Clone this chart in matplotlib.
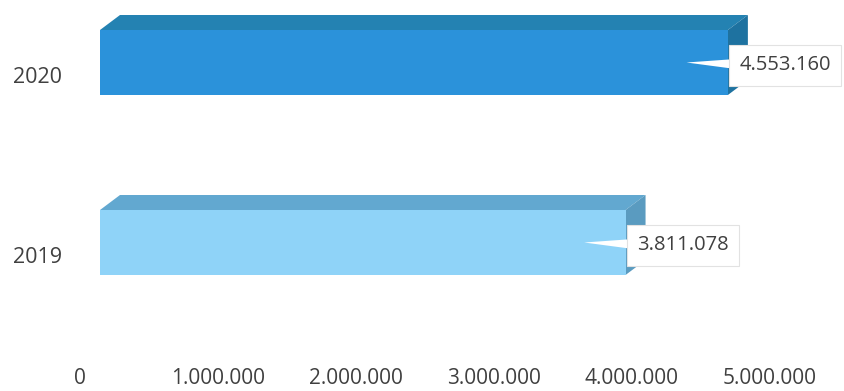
import matplotlib.pyplot as plt
from matplotlib.patches import Polygon
from matplotlib.transforms import ScaledTranslation, blended_transform_factory

plt.rcParams["font.family"] = ["Open Sans", "DejaVu Sans"]

years = ["2019", "2020"]
values = [3811078, 4553160]
front_colors = ["#8FD3F8", "#2B92DA"]
top_colors = ["#62A8D0", "#2482B2"]
side_colors = ["#5A9BC0", "#1E72A0"]
xticks = [0, 1000000, 2000000, 3000000, 4000000, 5000000]

DPI = 100


def fmt(v):
    # thousands separated by dots
    return f"{v:,}".replace(",", ".")


def px_shift(x, y):
    return ScaledTranslation(x / DPI, y / DPI, fig.dpi_scale_trans)


fig = plt.figure(figsize=(8.45, 3.91), dpi=DPI)
W, H = 845, 391
ax = fig.add_axes([100 / W, (H - 360) / H, 745 / W, 360 / H])

px_per_unit_x = 137.9 / 1e6
ax.set_xlim(0, 745 / px_per_unit_x)
ax.set_ylim(-(360 - 242.5) / 180, 1 + 62.5 / 180)
ax.axis("off")

bar_h = 65 / 180
dx = 20 / px_per_unit_x  # depth of the bars, in data units
dy = 15 / 180

ys = list(range(len(years)))
ax.barh(ys, values, height=bar_h, color=front_colors, zorder=2)

for y, v, tc, sc in zip(ys, values, top_colors, side_colors):
    top = y + bar_h / 2
    bot = y - bar_h / 2
    ax.add_patch(Polygon([(0, top), (v, top), (v + dx, top + dy), (dx, top + dy)],
                         closed=True, fc=tc, ec="none", zorder=1))
    ax.add_patch(Polygon([(v, bot), (v + dx, bot + dy), (v + dx, top + dy), (v, top)],
                         closed=True, fc=sc, ec="none", zorder=1))

    ax.annotate(
        fmt(v),
        xy=(v - 0.3e6, y),
        xytext=(53, -3),
        textcoords="offset pixels",
        ha="left",
        va="center",
        fontsize=14.5,
        color="#404040",
        bbox=dict(boxstyle="square,pad=0.5", fc="white", ec="#e2e2e2", lw=0.8),
        arrowprops=dict(arrowstyle="wedge,tail_width=1.0", fc="white", ec="none",
                        patchA=None, shrinkA=0, shrinkB=0),
        zorder=5,
    )

# value labels sit on the floor of the 3D box, a little left of each tick
floor = blended_transform_factory(ax.transData, fig.transFigure)
for t in xticks:
    ax.text(t, (H - 379) / H, fmt(t), transform=floor + px_shift(-20, 0),
            ha="center", va="center", fontsize=15, color="#404040")

# year labels, set a bit below the middle of each bar
for y, name in zip(ys, years):
    ax.text(0, y, name, transform=ax.transData + px_shift(-38, -15),
            ha="right", va="center", fontsize=15.5, color="#404040")

fig.savefig("out.png", dpi=DPI)
